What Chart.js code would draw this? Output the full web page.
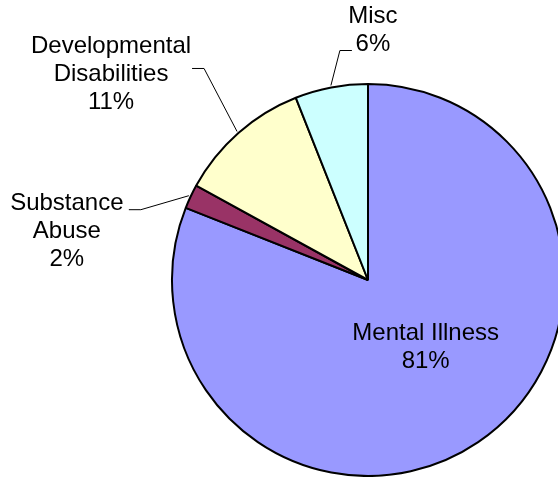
<!DOCTYPE html>
<html>
<head>
<meta charset="utf-8">
<script src="https://cdn.jsdelivr.net/npm/chart.js@4"></script>
<style>
  html, body { margin: 0; padding: 0; background: #fff; overflow: hidden; width: 558px; height: 477px; }
  #wrap { position: absolute; left: 0; top: 0; width: 736px; height: 477px; }
</style>
</head>
<body>
<div id="wrap"><canvas id="pie" width="736" height="477"></canvas></div>
<script>
// Data
const categories = ['Mental Illness', 'Substance Abuse', 'Developmental Disabilities', 'Misc'];
const shares = [81, 2, 11, 6];
const sliceColors = ['#9999FF', '#993366', '#FFFFCC', '#CCFFFF'];

// label text, split in lines like the original
const labelLines = [
    ['Mental Illness', '81%'],
    ['Substance', 'Abuse', '2%'],
    ['Developmental', 'Disabilities', '11%'],
    ['Misc', '6%']
];

// where each label sits, relative to the slice's mid point on the rim
// (inside labels: fraction of radius along the mid angle, plus a nudge)
const labelPlacement = [
    { inside: true, r: 0.46, dx: 7, dy: -7 },
    { dx: -122, dy: 36, ex: -60, ey: 14, side: 1 },
    { dx: -126, dy: -57, ex: -45, ey: -63, side: 1 },
    { dx: 42, dy: -55, ex: 21, ey: -35, side: -1 }
];

const FONT = '24px "Liberation Sans", Arial, sans-serif';
const LINE_H = 28;

const pieLabels = {
    id: 'pieLabels',
    afterDatasetsDraw(chart) {
        const { ctx } = chart;
        const meta = chart.getDatasetMeta(0);
        ctx.save();
        ctx.font = FONT;
        ctx.fillStyle = '#000';
        ctx.textAlign = 'center';
        ctx.textBaseline = 'middle';
        meta.data.forEach((arc, i) => {
            const p = arc.getProps(['x', 'y', 'startAngle', 'endAngle', 'outerRadius'], true);
            const mid = (p.startAngle + p.endAngle) / 2;
            const place = labelPlacement[i];
            const lines = labelLines[i];
            let cx, cy;
            if (place.inside) {
                cx = p.x + Math.cos(mid) * p.outerRadius * place.r + place.dx;
                cy = p.y + Math.sin(mid) * p.outerRadius * place.r + place.dy;
            } else {
                const rx = p.x + Math.cos(mid) * (p.outerRadius + 2);
                const ry = p.y + Math.sin(mid) * (p.outerRadius + 2);
                cx = rx + place.dx;
                cy = ry + place.dy;
                // leader line: rim -> elbow -> label edge
                const endX = rx + place.ex, endY = ry + place.ey;
                ctx.beginPath();
                ctx.strokeStyle = '#000';
                ctx.lineWidth = 1;
                ctx.moveTo(rx, ry);
                ctx.lineTo(endX + place.side * 12, endY);
                ctx.lineTo(endX, endY);
                ctx.stroke();
            }
            const top = cy - (lines.length - 1) * LINE_H / 2;
            lines.forEach((t, k) => ctx.fillText(t, cx, top + k * LINE_H));
        });
        ctx.restore();
    }
};

new Chart(document.getElementById('pie'), {
    type: 'pie',
    data: {
        labels: categories,
        datasets: [{
            data: shares,
            backgroundColor: sliceColors,
            borderColor: '#000',
            borderWidth: 2
        }]
    },
    options: {
        responsive: false,
        animation: false,
        devicePixelRatio: 1,
        layout: { padding: { top: 83, bottom: 0, left: 0, right: 0 } },
        plugins: {
            legend: { display: false },
            tooltip: { enabled: false }
        }
    },
    plugins: [pieLabels]
});
</script>
</body>
</html>
